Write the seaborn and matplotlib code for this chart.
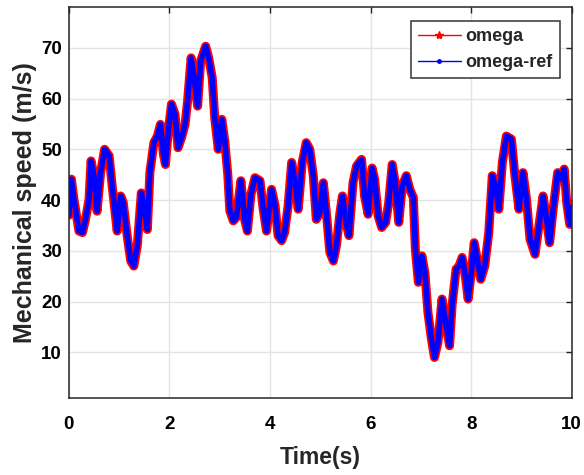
import pandas as pd
import matplotlib
matplotlib.use('Agg')
import matplotlib.pyplot as plt
import seaborn as sns
from matplotlib.lines import Line2D

# time (s) and speed values
time_s = [0, 0.02, 0.05, 0.1, 0.2, 0.27, 0.33, 0.4, 0.44, 0.5, 0.56, 0.63, 0.71, 0.8, 0.86,
          0.96, 1.03, 1.08, 1.16, 1.23, 1.29, 1.36, 1.44, 1.49, 1.56, 1.61, 1.69, 1.76,
          1.82, 1.88, 1.92, 1.97, 2.04, 2.11, 2.17, 2.24, 2.31, 2.36, 2.43, 2.49, 2.56,
          2.62, 2.72, 2.78, 2.85, 2.90, 2.97, 3.04, 3.10, 3.16, 3.20, 3.27, 3.33, 3.42,
          3.50, 3.55, 3.62, 3.70, 3.80, 3.86, 3.93, 4.03, 4.10, 4.16, 4.23, 4.29, 4.36,
          4.43, 4.49, 4.56, 4.64, 4.72, 4.79, 4.86, 4.92, 4.99, 5.06, 5.12, 5.19, 5.26,
          5.32, 5.39, 5.44, 5.51, 5.57, 5.65, 5.72, 5.82, 5.88, 5.95, 6.03, 6.08, 6.15,
          6.22, 6.30, 6.36, 6.43, 6.49, 6.56, 6.63, 6.71, 6.78, 6.85, 6.89, 6.95, 7.02,
          7.08, 7.14, 7.21, 7.27, 7.34, 7.42, 7.48, 7.57, 7.62, 7.70, 7.76, 7.82, 7.87,
          7.94, 8.01, 8.06, 8.12, 8.19, 8.27, 8.35, 8.42, 8.48, 8.55, 8.62, 8.70, 8.80,
          8.87, 8.95, 9.03, 9.10, 9.17, 9.27, 9.34, 9.43, 9.50, 9.56, 9.63, 9.72, 9.80,
          9.85, 9.90, 9.96, 10.0]

omega = [37, 41, 44.1, 40.1, 33.9, 33.6, 36.2, 40.1, 47.7, 44.7, 37.8, 45.4, 50, 48.7, 42.8,
         33.9, 40.8, 39.5, 32.9, 28, 27, 31, 41.4, 38.8, 34.2, 45.4, 51.3, 52.6,
         54.9, 49, 47, 53, 58.9, 56.9, 50.3, 52.3, 54.9, 59.5, 68, 64.1, 58.5,
         67.4, 70.3, 68, 64.1, 56.2, 50, 55.9, 51.6, 45, 37.9, 35.9, 36.6, 43.8,
         35.9, 33.9, 41.1, 44.4, 43.8, 38.5, 33.9, 42.1, 38.9, 33, 32, 33.6, 38.9,
         47.4, 44.1, 38.2, 47.4, 51.3, 50, 44.8, 36.2, 37.5, 43.4, 37.5, 29.7, 28,
         31, 37.5, 40.8, 35.6, 33, 43.4, 46.7, 48, 40.8, 37.2, 46.3, 44.1, 36.9,
         34.6, 35.6, 39.5, 47, 43.4, 35.6, 42.8, 44.8, 42.1, 40.5, 30.3, 23.8, 29,
         25.7, 17.9, 12.6, 9, 12, 20.5, 16.6, 11.3, 19.2, 26.4, 27, 28.7, 26,
         20.5, 26.4, 31.6, 28.4, 24.4, 27, 33.6, 44.8, 42.8, 38.2, 47.4, 52.6, 52,
         44.8, 38.2, 45.4, 40.2, 32.3, 29.3, 34.3, 40.8, 36.2, 31.6, 38.2, 45.4, 44.1,
         46.1, 39.5, 35.2, 38.5]

# reference speed tracks the measured one
omega_ref = list(omega)

df = pd.DataFrame({'t': time_s, 'omega': omega, 'omega_ref': omega_ref})

sns.set_style('white')
plt.rcParams['font.family'] = ['Liberation Sans', 'DejaVu Sans']
plt.rcParams['font.weight'] = 'bold'

fig = plt.figure(figsize=(5.84, 4.75), dpi=100)
ax = fig.add_axes([0.118, 0.162, 0.861, 0.823])

sns.lineplot(data=df, x='t', y='omega', color='red', linewidth=6.5, ax=ax,
             estimator=None, sort=False, solid_joinstyle='round', solid_capstyle='round')
sns.lineplot(data=df, x='t', y='omega_ref', color='blue', linewidth=4, ax=ax,
             estimator=None, sort=False, solid_joinstyle='round', solid_capstyle='round')

ax.set_xlim(0, 10)
ax.set_ylim(1, 78)
ax.set_xticks([0, 2, 4, 6, 8, 10])
ax.set_yticks([10, 20, 30, 40, 50, 60, 70])
ax.grid(True, color='#e3e3e3', linewidth=1)
ax.tick_params(direction='in', top=True, right=True, length=4, width=1,
               labelsize=13.5, colors='#222222')
ax.tick_params(axis='x', pad=13)
ax.tick_params(axis='y', pad=5)
for lab in ax.get_xticklabels() + ax.get_yticklabels():
    lab.set_fontweight('bold')
    lab.set_color('black')
for s in ax.spines.values():
    s.set_color('#262626')
    s.set_linewidth(1.1)

ax.set_xlabel('Time(s)', fontsize=16.5, fontweight='bold', labelpad=9)
ax.set_ylabel('Mechanical speed (m/s)', fontsize=18, fontweight='bold', labelpad=3)

# legend shows the thin line + marker style of each series
handles = [Line2D([0], [0], color='red', lw=1, marker='*', markersize=6),
           Line2D([0], [0], color='blue', lw=1, marker='.', markersize=5)]
leg = ax.legend(handles, ['omega', 'omega-ref'], loc='upper right',
                bbox_to_anchor=(0.976, 0.964), borderaxespad=0, fancybox=False,
                framealpha=1, edgecolor='#333333', prop={'size': 13, 'weight': 'bold'},
                handlelength=2.4, handletextpad=0.25, borderpad=0.38, labelspacing=0.5)
leg.get_frame().set_linewidth(1.1)

fig.savefig('out.png', dpi=100)
